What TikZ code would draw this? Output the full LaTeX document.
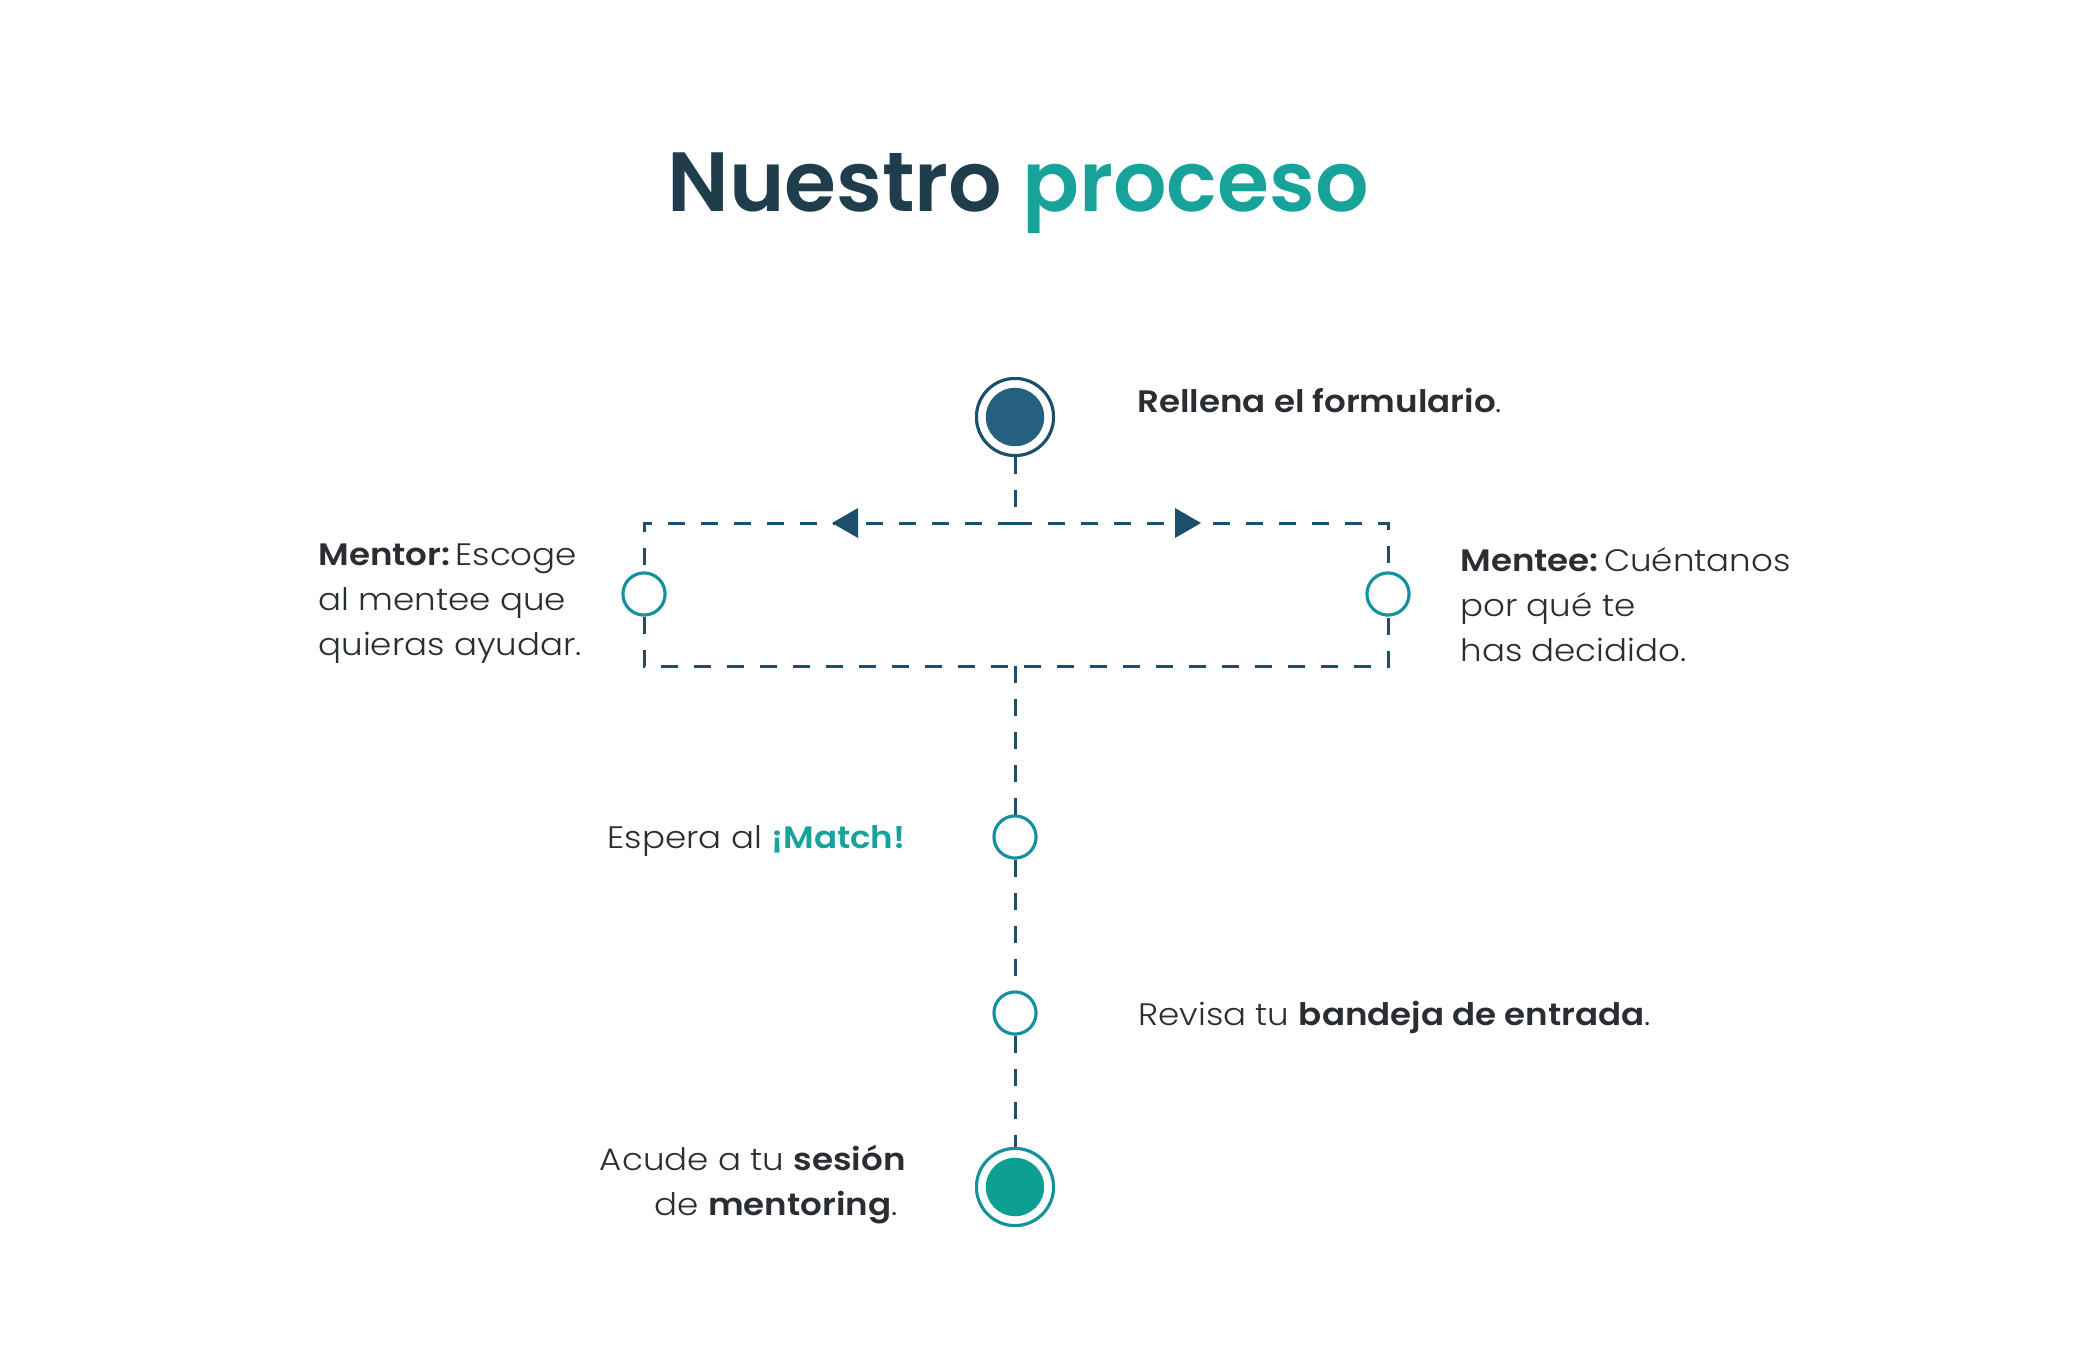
\documentclass[tikz,border=0pt]{standalone}
\usepackage{fontspec}
\setmainfont{Poppins}[UprightFont=* Light, BoldFont=* SemiBold, FakeStretch=1.1]
\newfontfamily\titlefont{Poppins}[UprightFont=* SemiBold]
\definecolor{navyline}{HTML}{1B4F6B}
\definecolor{navyfill}{HTML}{25617F}
\definecolor{titledark}{HTML}{1F3D4B}
\definecolor{tealc}{HTML}{17A29A}
\definecolor{tealfill}{HTML}{0E9F93}
\definecolor{tealline}{HTML}{16909C}
\definecolor{txt}{HTML}{2A2E33}
\tikzset{
  dashline/.style={draw=navyline, line width=1.5pt, dash pattern=on 8.5pt off 8pt},
  bigring/.style={circle, draw=#1, line width=1.5pt, minimum size=38.5pt, inner sep=0pt, fill=white},
  smallring/.style={circle, draw=tealline, line width=1.5pt, minimum size=21pt, inner sep=0pt, fill=white},
  lbl/.style={text=txt, font=\fontsize{15.5}{22.5}\selectfont, inner sep=0pt},
  tri/.style={fill=navyline}
}
\begin{document}
\begin{tikzpicture}[x=0.5pt,y=-0.5pt]
\useasboundingbox (0,0) rectangle (2088,1350);
% title
\node[anchor=base, inner sep=0pt, font=\titlefont\fontsize{42}{50}\selectfont] (title) at (1018,211)
  {\textcolor{titledark}{Nuestro} \textcolor{tealc}{proceso}};
% coordinates
\coordinate (jn) at (1015,523);
\coordinate (tl) at (644,523);
\coordinate (tr) at (1388,523);
\coordinate (bl) at (644,666);
\coordinate (br) at (1388,666);
\coordinate (jb) at (1015,666);
% circles
\node[bigring=navyline] (s1) at (1015,417) {};
\node[smallring] (ml) at (644,594) {};
\node[smallring] (mr) at (1388,594) {};
\node[smallring] (m1) at (1015,837) {};
\node[smallring] (m2) at (1015,1013) {};
\node[bigring=tealline] (s5) at (1015,1187) {};
% connectors
\draw[dashline] (s1.south) -- (jn);
\draw[dashline] (jn) -- (tl) -- (ml.north);
\draw[dashline] (jn) -- (tr) -- (mr.north);
\draw[dashline] (ml.south) -- (bl) -- (br) -- (mr.south);
\draw[dashline] (jb) -- (m1.north);
\draw[dashline] (m1.south) -- (m2.north);
\draw[dashline] (m2.south) -- (s5.north);
% redraw circles on top
\node[bigring=navyline] at (s1) {};
\fill[navyfill] (s1.center) circle (14.6pt);
\node[smallring] at (ml) {};
\node[smallring] at (mr) {};
\node[smallring] at (m1) {};
\node[smallring] at (m2) {};
\node[bigring=tealline] at (s5) {};
\fill[tealfill] (s5.center) circle (14.6pt);
% arrowheads
\fill[tri] (858,508) -- (832,523) -- (858,538) -- cycle;
\fill[tri] (1175,508) -- (1201,523) -- (1175,538) -- cycle;
% labels
\node[lbl, anchor=base west] (t1) at (1137,412) {\textbf{Rellena el formulario}.};
\node[lbl, anchor=base west] (t2a) at (318,565) {\textbf{Mentor:}\,Escoge};
\node[lbl, anchor=base west] (t2b) at (318,610) {al mentee que};
\node[lbl, anchor=base west] (t2c) at (318,655) {quieras ayudar.};
\node[lbl, anchor=base west] (t3a) at (1460,571) {\textbf{Mentee:}\,Cuéntanos};
\node[lbl, anchor=base west] (t3b) at (1460,616) {por qué te};
\node[lbl, anchor=base west] (t3c) at (1460,661) {has decidido.};
\node[lbl, anchor=base east] (t4) at (906,848) {Espera al \textbf{\textcolor{tealc}{¡Match!}}};
\node[lbl, anchor=base west] (t5) at (1138,1025) {Revisa tu \textbf{bandeja de entrada}.};
\node[lbl, anchor=base east] (t6a) at (906,1170) {Acude a tu \textbf{sesión}};
\node[lbl, anchor=base east] (t6b) at (898,1215) {de \textbf{mentoring}.};
\end{tikzpicture}
\end{document}
